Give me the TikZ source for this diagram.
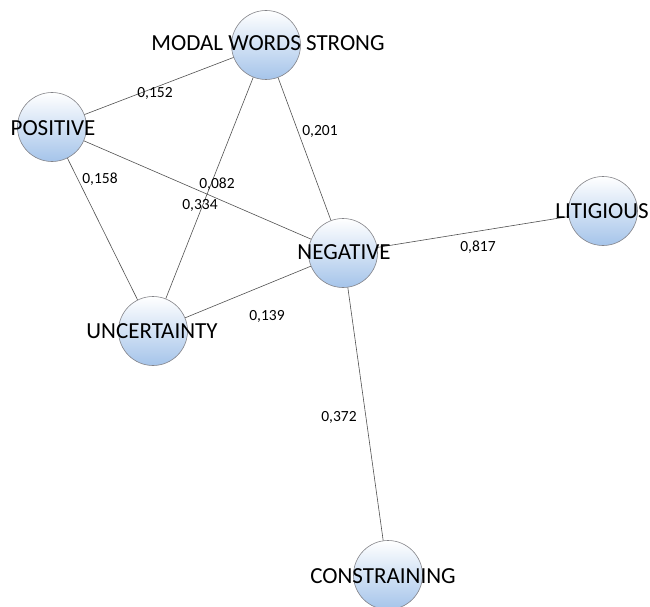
\documentclass[tikz,border=0pt]{standalone}
\usepackage{fontspec}
\setmainfont{Carlito}
\begin{document}
\begin{tikzpicture}[x=1pt,y=-1pt,
  bubble/.style={circle,draw={rgb,255:red,130;green,130;blue,135},line width=0.6pt,minimum size=69pt,inner sep=0pt,
    top color=white,bottom color={rgb,255:red,165;green,196;blue,234}},
  word/.style={font=\fontsize{23}{23}\selectfont,inner sep=0pt,text=black},
  edge/.style={draw={rgb,255:red,80;green,80;blue,80},line width=0.6pt},
  wt/.style={font=\fontsize{15.5}{15.5}\selectfont,inner sep=1pt,text=black}]
\useasboundingbox (0,0) rectangle (650,607);
\node[bubble] (m) at (266,45) {};
\node[bubble] (p) at (52,127) {};
\node[bubble] (n) at (343,253) {};
\node[bubble] (l) at (603,211) {};
\node[bubble] (u) at (153,331) {};
\node[bubble] (c) at (388,575) {};
\path[edge] (m) -- (p);
\path[edge] (m) -- (n);
\path[edge] (p) -- (n);
\path[edge] (m) -- (u);
\path[edge] (p) -- (u);
\path[edge] (n) -- (l);
\path[edge] (n) -- (u);
\path[edge] (n) -- (c);
\node[word] (mt) at (268,43) {MODAL WORDS STRONG};
\node[word] (pt) at (53,128) {POSITIVE};
\node[word] (nt) at (344,252) {NEGATIVE};
\node[word] (lt) at (602,211) {LITIGIOUS};
\node[word] (ut) at (152,331) {UNCERTAINTY};
\node[word] (ct) at (383,576) {CONSTRAINING};
\node[wt] (w1) at (155,93) {0,152};
\node[wt] (w2) at (320,131) {0,201};
\node[wt] (w3) at (217,184) {0,082};
\node[wt] (w4) at (200,205) {0,334};
\node[wt] (w5) at (100,179) {0,158};
\node[wt] (w6) at (478,247) {0,817};
\node[wt] (w7) at (267,316) {0,139};
\node[wt] (w8) at (339,417) {0,372};
\end{tikzpicture}
\end{document}
